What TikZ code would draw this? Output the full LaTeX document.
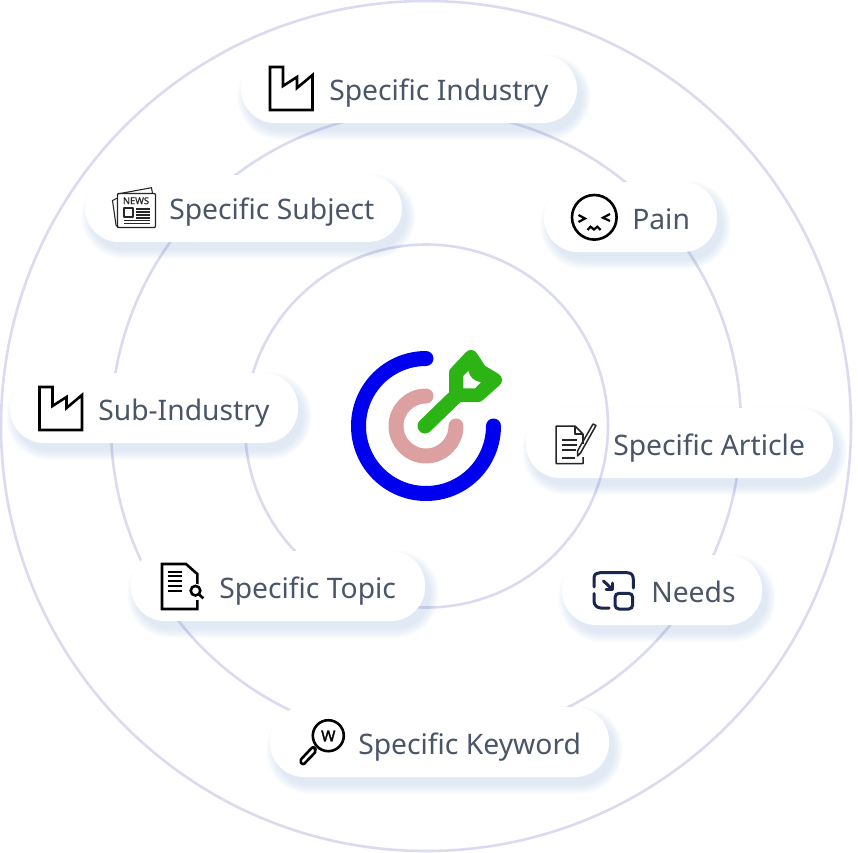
\documentclass[tikz,border=0pt]{standalone}
\usepackage{fontspec}
\setmainfont{Noto Sans}
\definecolor{ring}{HTML}{DADAF0}
\definecolor{label}{HTML}{4A5568}
\definecolor{shadowc}{HTML}{8FB0D8}
\definecolor{dartblue}{HTML}{0000F0}
\definecolor{dartpink}{HTML}{DDA0A0}
\definecolor{dartgreen}{HTML}{2CB314}
\definecolor{navy}{HTML}{1A2550}
\def\px{0.75pt}
\tikzset{
  x=0.75pt,y=-0.75pt,
  ringline/.style={draw=ring,line width=2.6*\px},
  pill/.style={fill=white,draw=none,rounded corners=34*\px,inner sep=0pt},
  pilltext/.style={anchor=base west,inner sep=0pt,text=label,font=\fontsize{21.2pt}{26pt}\selectfont},
  icon/.style={draw=black,line width=2.6*\px,line join=miter},
  thin icon/.style={draw=black!85,line width=1.1*\px,line join=round},
  dart/.style={line width=15*\px,line cap=round,line join=round},
}
\begin{document}
\begin{tikzpicture}
\useasboundingbox (0,0) rectangle (858,853);
% rings
\draw[ringline] (426,426) circle (425);
\draw[ringline] (426,426) circle (315);
\draw[ringline] (426.5,426) circle (181.5);
% pills
\foreach \n/\xa/\ya/\xb/\yb/\tx/\ty/\t in {
  industry/241/55/577/123/329/100/Specific Industry,
  subject/85/175/402/242/169/219/Specific Subject,
  pain/544/182/717/252/632/229/Pain,
  subind/10/373/298/443/98/420/Sub-Industry,
  article/526/408/833/478/613/455/Specific Article,
  topic/131/551/425/621/219/598/Specific Topic,
  needs/562/555/762/625/651/602/Needs,
  keyword/270/707/609/777/358/754/Specific Keyword}{
  \foreach \k in {0,...,9}{
    \fill[shadowc,opacity=0.03,rounded corners=(34+9-\k)*\px]
      (\xa+5-9+\k,\ya+8-9+\k) rectangle (\xb+5+9-\k,\yb+8+9-\k);
  }
  \pgfmathsetmacro{\cx}{(\xa+\xb)/2}
  \pgfmathsetmacro{\cy}{(\ya+\yb)/2}
  \pgfmathsetmacro{\pw}{(\xb-\xa)*0.75}
  \pgfmathsetmacro{\ph}{(\yb-\ya)*0.75}
  \node[pill,minimum width=\pw pt,minimum height=\ph pt] (pill-\n) at (\cx,\cy) {};
  \node[pilltext] (text-\n) at (\tx,\ty) {\t};
}
% inner ring stays visible over the article pill
\draw[ringline] (426.5,426) ++(-5.7:181.5) arc[start angle=-5.7,end angle=16.65,radius=181.5];
% dart target
\draw[dart,dartblue] (426,358.5) arc[start angle=-90,end angle=-360,radius=67.5];
\draw[dart,dartpink] (426,396) arc[start angle=-90,end angle=-360,radius=30];
\draw[dart,dartgreen] (425,426) -- (457,395);
\draw[dartgreen,fill=dartgreen,line width=14*\px,line join=round]
  (471,357) -- (456,373) -- (456,395) -- (478,395) -- (495,380) -- (480,371) -- cycle;
\fill[white] (468.3,371) -- (463.3,376) -- (463.3,388.3) -- (475,388.3) -- (480.7,382.3)
  .. controls (474,381) and (470,378) .. (468.3,371) -- cycle;
% factory icons
\foreach \dx/\dy in {0/0,-230.5/320}{
  \draw[icon] (270+\dx,67+\dy) -- (283+\dx,67+\dy) -- (283+\dx,86+\dy) -- (297+\dx,77+\dy)
    -- (297+\dx,88+\dy) -- (312.5+\dx,75+\dy) -- (312.5+\dx,110+\dy) -- (270+\dx,110+\dy) -- cycle;
}
% newspaper
\draw[thin icon] (117.5,194) -- (151.5,187.7) -- (152.5,193.5);
\draw[thin icon] (117.5,198) -- (112.5,200.5) -- (116,225) -- (118,227.5);
\draw[thin icon,rounded corners=1*\px] (117.5,193.5) rectangle (155.5,227.5);
\node[inner sep=0pt,font=\fontsize{7pt}{7pt}\selectfont\addfontfeature{FakeBold=1},text=black!85] (newsword) at (136,200.8) {NEWS};
\draw[thin icon] (124,208) rectangle (133,217);
\foreach \yy in {209,212,215,218}{\draw[thin icon] (136,\yy) -- (149.5,\yy);}
\foreach \yy in {220.5,223.5}{\draw[thin icon] (124,\yy) -- (149.5,\yy);}
% pain face
\draw[icon] (594.3,217.3) circle (22.3);
\draw[icon,line width=2.2*\px] (578.5,215) -- (585,218.5) -- (578.5,222);
\draw[icon,line width=2.2*\px] (610,214) -- (603,217.7) -- (610,221);
\draw[icon,line width=2.2*\px] (587.5,230) -- (590.5,226.7) -- (594,229.5) -- (597.3,226.7) -- (600.7,230);
% article
\draw[thin icon,line width=1.5*\px] (583,434) -- (575,426) -- (556,426) -- (556,463.5) -- (583,463.5) -- (583,457);
\draw[thin icon,line width=1.5*\px] (575,426) -- (575,434) -- (583,434);
\draw[thin icon,line width=1.5*\px] (583,434) -- (583,444);
\foreach \yy/\xe in {440/577,445/577,450/576,458/575}{\draw[thin icon,line width=1.5*\px] (562,\yy) -- (\xe,\yy);}
\draw[thin icon,line width=1.5*\px] (577.5,451) -- (593,424) -- (596,425.5) -- (580.5,453) -- (577.5,456) -- cycle;
% needs
\draw[navy,line width=3*\px,line cap=round,line join=round]
  (594,587) -- (594,578) .. controls (594,574) and (597,572.7) .. (600,572.7) -- (627,572.7)
  .. controls (631,572.7) and (633.3,575) .. (633.3,579) -- (633.3,588);
\draw[navy,line width=3*\px,line cap=round]
  (594,593.5) -- (594,601) .. controls (594,605) and (597,608) .. (601,608) -- (609,608);
\draw[navy,line width=3*\px,rounded corners=4*\px] (615,593.3) rectangle (632.7,609);
\draw[navy,line width=3*\px,line cap=round] (603.5,581) -- (612,589);
\draw[navy,line width=3*\px,line cap=round,line join=round] (612.5,583) -- (612.5,589.7) -- (606,589.7);
% topic
\draw[icon] (197.3,585) -- (197.3,574) -- (186,564) -- (162,564) -- (162,609) -- (197.3,609) -- (197.3,600);
\foreach \yy in {571.7,576,580.7,586,590.7}{\draw[icon,line width=2*\px] (167.5,\yy) -- (181.5,\yy);}
\fill[white] (195.5,590.7) circle (7);
\draw[icon] (195.5,590.7) circle (4.8);
\draw[icon] (198.8,594.2) -- (203.3,598.3);
% keyword
\draw[icon] (328.3,735.7) circle (15.5);
\node[inner sep=0pt,font=\fontsize{11.5pt}{12pt}\selectfont\addfontfeature{FakeBold=2},text=black] (wmark) at (328.3,736) {W};
\draw[icon,line join=round] (316,750) -- (313,746.5);
\draw[icon,line join=round,rounded corners=2*\px] (313,746.5) -- (299.5,761) -- (303,765) -- (316.5,751) -- cycle;
\end{tikzpicture}
\end{document}
